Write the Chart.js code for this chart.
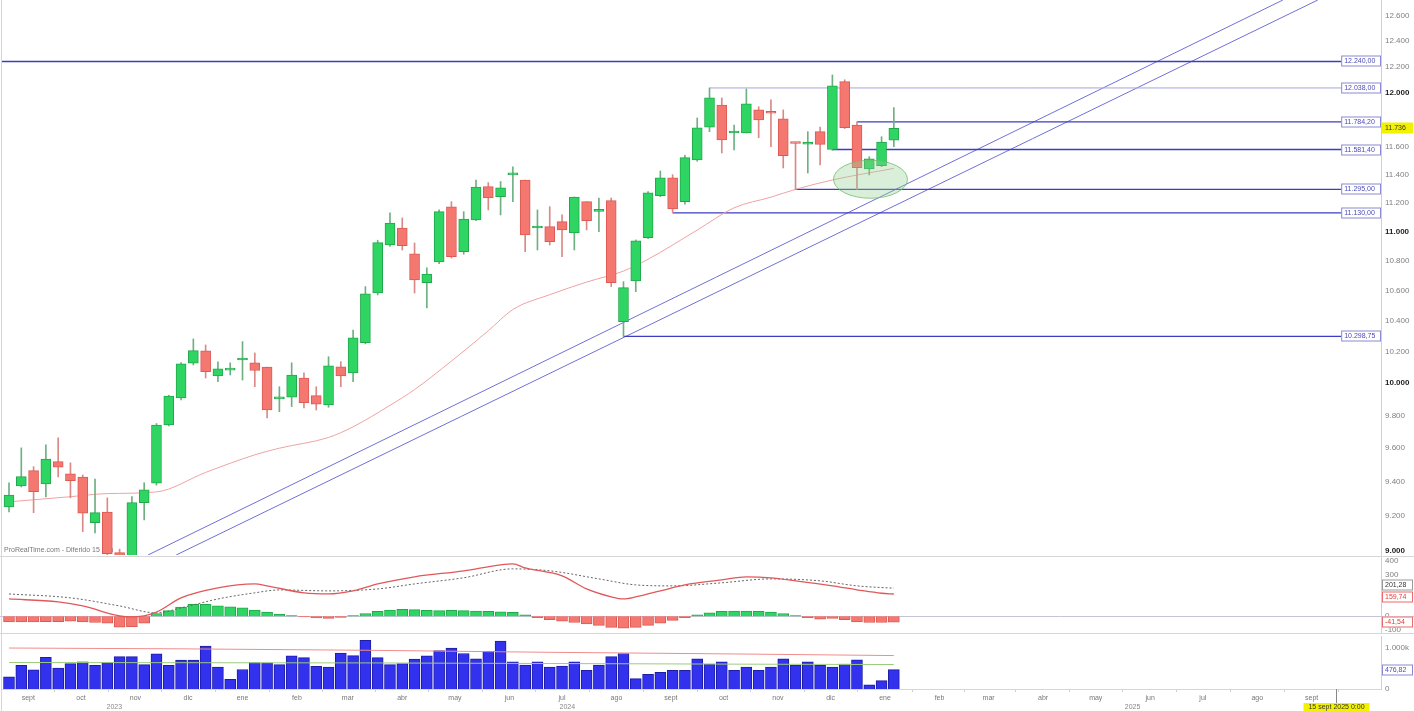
<!DOCTYPE html>
<html lang="es">
<head>
<meta charset="utf-8">
<title>Gráfico semanal</title>
<script src="https://cdn.jsdelivr.net/npm/chart.js@4.4.1/dist/chart.umd.min.js"></script>
<style>
  html, body { margin: 0; padding: 0; background: #fff; }
  body { width: 1414px; height: 711px; position: relative; overflow: hidden; }
  canvas { position: absolute; left: 0; }
  .rule { position: absolute; background: #d6d6d6; }
</style>
</head>
<body>
<canvas id="priceChart" width="1414" height="557" style="top:0"></canvas>
<canvas id="macdChart" width="1414" height="76" style="top:557px"></canvas>
<canvas id="volumeChart" width="1414" height="78" style="top:633px"></canvas>
<div class="rule" style="left:0;top:556px;width:1414px;height:1px"></div>
<div class="rule" style="left:0;top:633px;width:1414px;height:1px"></div>
<div class="rule" style="left:1px;top:0;width:1px;height:711px"></div>
<script>
Chart.defaults.font.family = '"Liberation Sans", Arial, sans-serif';
Chart.defaults.font.size = 8;
Chart.defaults.color = '#777';
Chart.defaults.animation = false;

// Weekly candles, first week starts 21 Aug 2023
const opens  = [9252, 9375, 9466, 9387, 9519, 9446, 9428, 9161, 9223, 8990,
                8960, 9277, 9391, 9741, 9908, 10127, 10205, 10046, 10083, 10147,
                10129, 10102, 9902, 9913, 10033, 9922, 9864, 10104, 10065, 10258,
                10583, 10907, 11024, 10846, 10652, 10792, 11171, 10862, 11080, 11315,
                11243, 11398, 11362, 11024, 11034, 11068, 10990, 11208, 11140, 11215,
                10394, 10663, 10958, 11251, 11378, 11208, 11506, 11746, 11910, 11702,
                11702, 11873, 11850, 11806, 11629, 11620, 11712, 11581.4, 12086, 11760,
                11441, 11464, 11650];
const highs  = [9393, 9602, 9489, 9620, 9662, 9512, 9440, 9416, 9305, 9010,
                9312, 9394, 9750, 9925, 10130, 10282, 10243, 10136, 10129, 10265,
                10192, 10102, 9978, 10129, 10065, 9978, 10168, 10136, 10340, 10626,
                10940, 11129, 11094, 10921, 10751, 11150, 11208, 11138, 11362, 11343,
                11351, 11457, 11362, 11150, 11173, 11115, 11241, 11208, 11234, 11234,
                10659, 10942, 11280, 11426, 11400, 11540, 11813, 12038, 11963, 11761,
                12030, 11897, 11948, 11873, 11629, 11712, 11746, 12137, 12100, 11784.2,
                11529, 11675, 11890];
const lows   = [9223, 9369, 9219, 9311, 9428, 9305, 9110, 9102, 8950, 8900,
                8940, 9177, 9380, 9735, 9895, 10115, 10033, 10010, 10052, 10020,
                9978, 9784, 9823, 9854, 9846, 9833, 9850, 9978, 10010, 10250,
                10570, 10898, 10873, 10583, 10484, 10780, 10818, 10844, 11075, 11150,
                11115, 11208, 10862, 10873, 10907, 10828, 10873, 11011, 10999, 10626,
                10298.75, 10592, 10950, 11243, 11130, 11190, 11496, 11712, 11556, 11578,
                11702, 11668, 11602, 11448, 11295, 11412, 11469, 11575, 11735, 11295,
                11398, 11457, 11602];
const closes = [9322, 9430, 9342, 9535, 9486, 9406, 9216, 9219, 8985, 8960,
                9277, 9352, 9741, 9920, 10122, 10207, 10073, 10090, 10085, 10150,
                10080, 9833, 9913, 10052, 9879, 9870, 10110, 10046, 10289, 10577,
                10923, 11059, 10902, 10670, 10710, 11138, 10828, 11087, 11312, 11234,
                11306, 11400, 10976, 11024, 10930, 11011, 11241, 11075, 11150, 10652,
                10619, 10935, 11270, 11378, 11157, 11522, 11741, 11963, 11651, 11705,
                11918, 11798, 11848, 11537, 11625, 11635, 11619, 12055, 11741, 11450,
                11513, 11635, 11736];

// 20-week moving average read at some weeks
const maWeeks  = [1, 6, 9, 13, 17, 21, 23, 27, 29, 32, 34, 37, 40, 42, 45, 48, 51, 53, 57, 60, 63, 65, 68, 73];
const maValues = [9282, 9312, 9330, 9340, 9455, 9560, 9600, 9665, 9730, 9862, 9960, 10140, 10335, 10474,
                  10572, 10656, 10730, 10810, 11010, 11165, 11240, 11295, 11362, 11445];

// support / resistance levels (value, first week)
const levelValues = [12240, 12038, 11784.2, 11581.4, 11295, 11130, 10298.75];
const levelStarts = [0.43, 58, 70, 68, 65, 55, 51];
const lastPrice = 11736;

// trend channel (week, price)
const trendA = [[12.31, 8977], [104.66, 12722]];
const trendB = [[14.6, 8977], [107.5, 12722]];

// MACD panel
const macdWeeks   = [1, 5, 7, 10, 11, 13, 15, 18, 21, 22, 25, 27, 29, 31, 34, 38, 41, 42, 43, 46, 48, 50,
                     51, 52, 54, 56, 59, 61, 63, 65, 68, 70, 72, 73];
const macdValues  = [124, 103, 74, 2, -5, 30, 132, 204, 232, 218, 168, 160, 182, 232, 283, 326, 369, 376,
                     347, 290, 196, 139, 124, 139, 182, 225, 261, 283, 276, 254, 218, 190, 165, 159.74];
const signalWeeks  = [1, 6, 10, 13, 15, 18, 21, 23, 27, 31, 34, 38, 42, 45, 49, 52, 55, 59, 63, 67, 70, 73];
const signalValues = [160, 132, 74, 24, 60, 124, 168, 189, 182, 196, 232, 276, 340, 326, 268, 225, 218, 240,
                      268, 254, 218, 201.28];
const macdHist = [-41, -41, -41, -38, -38, -35, -41, -45, -50, -78,
                  -75, -50, 20, 40, 65, 85, 85, 75, 68, 60,
                  45, 30, 15, 5, -5, -12, -15, -8, 5, 20,
                  35, 45, 50, 48, 42, 40, 42, 40, 38, 35,
                  32, 28, 10, -10, -25, -35, -45, -55, -65, -80,
                  -85, -80, -65, -50, -30, -10, 10, 25, 35, 38,
                  38, 35, 30, 20, 5, -10, -20, -15, -25, -40,
                  -45, -45, -41.54];

// Volume panel (thousands)
const volumes = [300, 581, 468, 776, 512, 622, 666, 581, 648, 794,
                 794, 596, 863, 581, 709, 709, 1050, 538, 238, 479,
                 648, 640, 596, 812, 768, 556, 538, 878, 819, 1196,
                 768, 596, 622, 735, 812, 940, 1006, 870, 742, 922,
                 1178, 666, 589, 666, 538, 563, 666, 461, 589, 794,
                 870, 256, 358, 410, 461, 461, 742, 614, 666, 461,
                 538, 461, 538, 742, 589, 666, 589, 538, 614, 717,
                 102, 205, 476.82];
const volMaWeeks  = [1, 15, 30, 45, 60, 73];
const volMaSlow   = [1005, 985, 950, 900, 860, 820];
const volMaFast   = [650, 645, 640, 625, 610, 600];

// axes (labels that sit under the value tags are left out)
const priceTicks = [9000, 9200, 9400, 9600, 9800, 10000, 10200, 10400, 10600, 10800, 11000,
                    11200, 11400, 11600, 12000, 12200, 12400, 12600];
const macdTicks = [-100, 0, 300, 400];
const volumeTicks = [0, 1000];
const monthNames = ['ene', 'feb', 'mar', 'abr', 'may', 'jun', 'jul', 'ago', 'sept', 'oct', 'nov', 'dic'];
const yearLabels = ['2023', '2024', '2025'];
const yearDates = [Date.UTC(2023, 9, 20), Date.UTC(2024, 6, 4), Date.UTC(2025, 4, 22)];
const cursorDate = Date.UTC(2025, 8, 15);
const cursorText = '15 sept 2025 0:00';

const X_MIN = 0.43, X_MAX = 112.64, LEVEL_END = 109.4;
const firstWeek = Date.UTC(2023, 7, 21);
const weekOf = t => 1 + (t - firstWeek) / (7 * 86400000);

const monthTicks = [];
for (let y = 2023; y <= 2025; y++) {
  for (let m = 0; m < 12; m++) {
    const v = weekOf(Date.UTC(y, m, 1));
    if (v > X_MIN && v <= weekOf(Date.UTC(2025, 8, 1))) monthTicks.push({ value: v, label: monthNames[m] });
  }
}

function fmtNum(v, dec) {
  const parts = Math.abs(v).toFixed(dec).split('.');
  const s = parts[0].replace(/\B(?=(\d{3})+(?!\d))/g, '.');
  return (v < 0 ? '-' : '') + (parts[1] ? s + ',' + parts[1] : s);
}

function drawTag(ctx, x, y, w, text, bg, border, color) {
  const yc = Math.round(y);
  ctx.save();
  ctx.fillStyle = bg;
  ctx.fillRect(x, yc - 5.5, w, 11);
  if (border) {
    ctx.strokeStyle = border;
    ctx.lineWidth = 1;
    ctx.strokeRect(x + 0.5, yc - 5, w - 1, 10);
  }
  ctx.fillStyle = color;
  ctx.font = '7px "Liberation Sans", Arial, sans-serif';
  ctx.textBaseline = 'middle';
  ctx.textAlign = 'left';
  ctx.fillText(text, x + 3, yc + 0.5);
  ctx.restore();
}

// keep right-hand tags from covering each other
function spreadTags(tags, gap) {
  tags.sort((a, b) => a.y - b.y);
  for (let i = 1; i < tags.length; i++) {
    const d = tags[i].y - tags[i - 1].y;
    if (d < gap) {
      const push = (gap - d) / 2;
      tags[i - 1].y -= push;
      tags[i].y += push;
    }
  }
  return tags;
}

const weeks = opens.map((_, i) => i + 1);
const isUp = weeks.map((_, i) => closes[i] >= opens[i]);
const toPoints = (xs, ys) => xs.map((x, i) => ({ x: x, y: ys[i] }));

const xLinear = { type: 'linear', min: X_MIN, max: X_MAX, offset: false, display: false };
const rightAxis = (extra) => Object.assign({
  position: 'right',
  afterFit: s => { s.width = 33; s.paddingTop = 0; s.paddingBottom = 0; },
  grid: { display: false, drawTicks: false },
  border: { display: true, color: '#d0d0d0' },
  ticks: { autoSkip: false, padding: 4, color: '#777' }
}, extra);

// ---------- price chart ----------
const levelDatasets = levelValues.map((v, i) => ({
  type: 'line',
  data: [{ x: levelStarts[i], y: v }, { x: LEVEL_END, y: v }],
  borderColor: i === 1 ? '#a3a3dc' : '#3d3dc4',
  borderWidth: i === 0 ? 1.6 : (i === 1 ? 1 : 1.3),
  pointRadius: 0,
  order: 4
}));
const trendDatasets = [trendA, trendB].map(t => ({
  type: 'line',
  data: t.map(p => ({ x: p[0], y: p[1] })),
  borderColor: '#7070d6',
  borderWidth: 1,
  pointRadius: 0,
  order: 5
}));

const priceOverlay = {
  id: 'priceOverlay',
  beforeDatasetsDraw(chart) {
    const ctx = chart.ctx;
    ctx.save();
    ctx.font = '7px "Liberation Sans", Arial, sans-serif';
    ctx.fillStyle = '#777';
    ctx.textBaseline = 'middle';
    ctx.fillText('ProRealTime.com - Diferido 15 min', 4, 550);
    ctx.restore();
  },
  afterDatasetsDraw(chart) {
    const ctx = chart.ctx, xs = chart.scales.x, ys = chart.scales.y;
    // highlighted zone
    ctx.save();
    ctx.beginPath();
    ctx.ellipse(xs.getPixelForValue(71.1), ys.getPixelForValue(11367), 37, 19, 0, 0, Math.PI * 2);
    ctx.fillStyle = 'rgba(150, 210, 150, 0.35)';
    ctx.fill();
    ctx.strokeStyle = 'rgba(110, 190, 110, 0.8)';
    ctx.lineWidth = 1;
    ctx.stroke();
    ctx.restore();
    // level labels
    const left = xs.getPixelForValue(LEVEL_END);
    levelValues.forEach(v => {
      drawTag(ctx, left, ys.getPixelForValue(v), chart.chartArea.right - left, fmtNum(v, 2), '#fff', '#8a8ad2', '#4a4ab8');
    });
  },
  afterDraw(chart) {
    const ys = chart.scales.y;
    drawTag(chart.ctx, chart.chartArea.right + 1, ys.getPixelForValue(lastPrice), 31, fmtNum(lastPrice, 0), '#f2f200', null, '#333');
  }
};

new Chart(document.getElementById('priceChart'), {
  data: {
    datasets: [
      {
        type: 'bar',
        data: weeks.map((w, i) => ({ x: w, y: [opens[i], closes[i]] })),
        backgroundColor: isUp.map(u => u ? '#2fd562' : '#f47870'),
        borderColor: isUp.map(u => u ? '#21a84b' : '#dc5a54'),
        borderWidth: 1,
        borderSkipped: false,
        barThickness: 10,
        minBarLength: 2,
        grouped: false,
        order: 1
      },
      {
        type: 'bar',
        data: weeks.map((w, i) => ({ x: w, y: [lows[i], highs[i]] })),
        backgroundColor: isUp.map(u => u ? '#6fb083' : '#d98a86'),
        barThickness: 1,
        grouped: false,
        order: 2
      },
      {
        type: 'line',
        data: toPoints(maWeeks, maValues),
        borderColor: '#f0a2a2',
        borderWidth: 1,
        pointRadius: 0,
        cubicInterpolationMode: 'monotone',
        order: 3
      },
      ...levelDatasets,
      ...trendDatasets
    ]
  },
  options: {
    responsive: false,
    layout: { autoPadding: false, padding: { left: 2, right: 0, top: 0, bottom: 2 } },
    plugins: { legend: { display: false }, tooltip: { enabled: false } },
    scales: {
      x: xLinear,
      y: rightAxis({
        type: 'logarithmic',
        min: 8977,
        max: 12722,
        afterBuildTicks: s => { s.ticks = priceTicks.map(v => ({ value: v })); },
        ticks: {
          autoSkip: false,
          padding: 4,
          callback: v => fmtNum(v, 0),
          color: c => (c.tick && c.tick.value % 1000 === 0) ? '#222' : '#808080',
          font: c => ({ size: 8, weight: (c.tick && c.tick.value % 1000 === 0) ? 'bold' : 'normal' })
        }
      })
    }
  },
  plugins: [priceOverlay]
});

// ---------- MACD chart ----------
const macdOverlay = {
  id: 'macdOverlay',
  beforeDatasetsDraw(chart) {
    const ctx = chart.ctx, ys = chart.scales.y;
    const y0 = Math.round(ys.getPixelForValue(0)) + 0.5;
    ctx.save();
    ctx.strokeStyle = '#c4c4d8';
    ctx.lineWidth = 1;
    ctx.beginPath();
    ctx.moveTo(0, y0);
    ctx.lineTo(chart.width, y0);
    ctx.stroke();
    ctx.restore();
  },
  afterDraw(chart) {
    const ctx = chart.ctx, ys = chart.scales.y, x = chart.chartArea.right + 1;
    const lastSignal = signalValues[signalValues.length - 1];
    const lastMacd = macdValues[macdValues.length - 1];
    const lastHist = macdHist[macdHist.length - 1];
    const tags = spreadTags([
      { y: ys.getPixelForValue(lastSignal), text: fmtNum(lastSignal, 2), border: '#999', color: '#333' },
      { y: ys.getPixelForValue(lastMacd), text: fmtNum(lastMacd, 2), border: '#ea6b6b', color: '#e03b3b' },
      { y: ys.getPixelForValue(lastHist), text: fmtNum(lastHist, 2), border: '#ea6b6b', color: '#e03b3b' }
    ], 12);
    tags.forEach(t => drawTag(ctx, x, t.y, 31, t.text, '#fff', t.border, t.color));
  }
};

new Chart(document.getElementById('macdChart'), {
  data: {
    datasets: [
      {
        type: 'bar',
        data: weeks.map((w, i) => ({ x: w, y: macdHist[i] })),
        backgroundColor: macdHist.map(v => v >= 0 ? '#2fd562' : '#f47870'),
        borderColor: macdHist.map(v => v >= 0 ? '#21a84b' : '#dc5a54'),
        borderWidth: 1,
        barThickness: 11,
        order: 3
      },
      {
        type: 'line',
        data: toPoints(macdWeeks, macdValues),
        borderColor: '#e0585a',
        borderWidth: 1.3,
        pointRadius: 0,
        cubicInterpolationMode: 'monotone',
        order: 1
      },
      {
        type: 'line',
        data: toPoints(signalWeeks, signalValues),
        borderColor: '#666',
        borderWidth: 1,
        borderDash: [2, 2],
        pointRadius: 0,
        cubicInterpolationMode: 'monotone',
        order: 2
      }
    ]
  },
  options: {
    responsive: false,
    layout: { autoPadding: false, padding: { left: 2, right: 0, top: 0, bottom: 0 } },
    plugins: { legend: { display: false }, tooltip: { enabled: false } },
    scales: {
      x: xLinear,
      y: rightAxis({
        type: 'linear',
        min: -120,
        max: 425,
        afterBuildTicks: s => { s.ticks = macdTicks.map(v => ({ value: v })); },
        ticks: { autoSkip: false, padding: 4, color: '#808080', callback: v => fmtNum(v, 0) }
      })
    }
  },
  plugins: [macdOverlay]
});

// ---------- volume chart ----------
const volumeOverlay = {
  id: 'volumeOverlay',
  afterDraw(chart) {
    const ctx = chart.ctx, xs = chart.scales.x, ys = chart.scales.y;
    drawTag(ctx, chart.chartArea.right + 1, ys.getPixelForValue(volumes[volumes.length - 1]), 31,
      fmtNum(volumes[volumes.length - 1], 2), '#fff', '#8a8ad2', '#4a4ab8');
    ctx.save();
    ctx.font = '7px "Liberation Sans", Arial, sans-serif';
    ctx.fillStyle = '#888';
    ctx.textAlign = 'center';
    ctx.textBaseline = 'middle';
    yearLabels.forEach((t, i) => ctx.fillText(t, xs.getPixelForValue(weekOf(yearDates[i])), 74));
    // cursor date marker
    const cx = Math.round(xs.getPixelForValue(weekOf(cursorDate))) + 0.5;
    ctx.strokeStyle = '#888';
    ctx.beginPath();
    ctx.moveTo(cx, chart.chartArea.bottom);
    ctx.lineTo(cx, 70);
    ctx.stroke();
    ctx.fillStyle = '#f2f200';
    ctx.fillRect(cx - 33, 70, 66, 8);
    ctx.fillStyle = '#333';
    ctx.fillText(cursorText, cx, 74.5);
    ctx.restore();
  }
};

new Chart(document.getElementById('volumeChart'), {
  data: {
    datasets: [
      {
        type: 'bar',
        data: weeks.map((w, i) => ({ x: w, y: volumes[i] })),
        backgroundColor: '#3131ee',
        borderColor: '#1d1da6',
        borderWidth: 1,
        barThickness: 11,
        order: 3
      },
      {
        type: 'line',
        data: toPoints(volMaWeeks, volMaSlow),
        borderColor: '#f08c8c',
        borderWidth: 1,
        pointRadius: 0,
        cubicInterpolationMode: 'monotone',
        order: 1
      },
      {
        type: 'line',
        data: toPoints(volMaWeeks, volMaFast),
        borderColor: '#9ccc7c',
        borderWidth: 1,
        pointRadius: 0,
        cubicInterpolationMode: 'monotone',
        order: 2
      }
    ]
  },
  options: {
    responsive: false,
    layout: { autoPadding: false, padding: { left: 2, right: 0, top: 3, bottom: 0 } },
    plugins: { legend: { display: false }, tooltip: { enabled: false } },
    scales: {
      x: {
        type: 'linear',
        min: X_MIN,
        max: X_MAX,
        offset: false,
        afterFit: s => { s.height = 22; s.paddingLeft = 0; s.paddingRight = 0; },
        afterBuildTicks: s => { s.ticks = monthTicks.map(t => ({ value: t.value })); },
        grid: { drawOnChartArea: false, drawTicks: true, tickLength: 3, color: '#cfcfcf' },
        border: { display: true, color: '#d6d6d6' },
        ticks: {
          autoSkip: false,
          maxRotation: 0,
          padding: 2,
          color: '#777',
          font: { size: 7 },
          callback: (v, i) => monthTicks[i] ? monthTicks[i].label : ''
        }
      },
      y: rightAxis({
        type: 'linear',
        min: 0,
        max: 1300,
        afterBuildTicks: s => { s.ticks = volumeTicks.map(v => ({ value: v })); },
        ticks: { autoSkip: false, padding: 4, color: '#808080', callback: v => v === 0 ? '0' : fmtNum(v, 0) + 'k' }
      })
    }
  },
  plugins: [volumeOverlay]
});
</script>
</body>
</html>
